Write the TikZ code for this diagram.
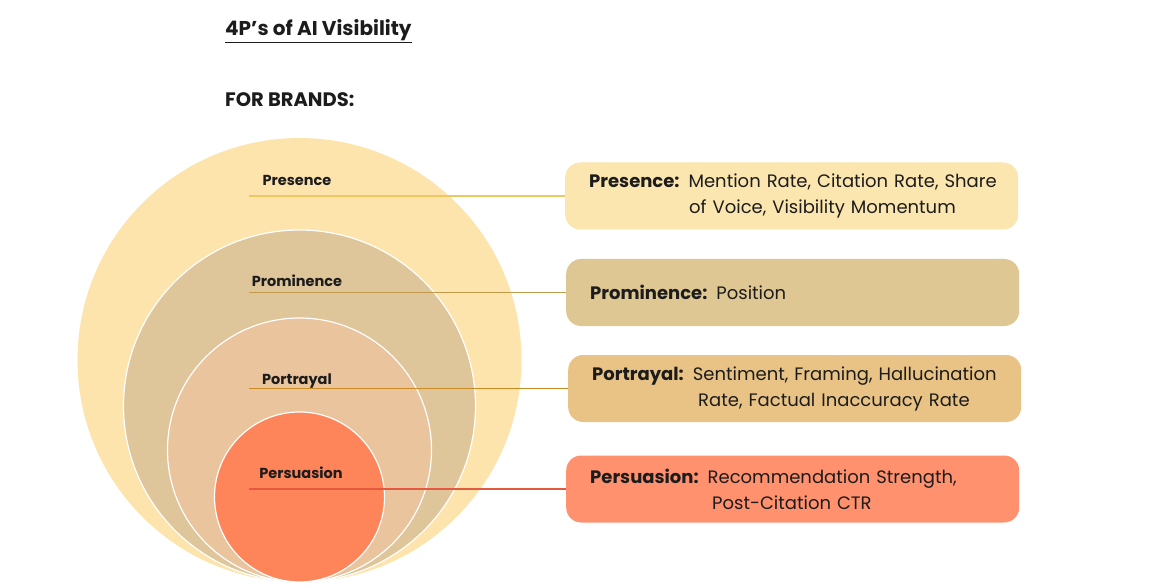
\documentclass[tikz,border=0pt]{standalone}
\usepackage{fontspec}
\setmainfont{Poppins}
\definecolor{cOut}{HTML}{FDE4AC}
\definecolor{cTwo}{HTML}{DEC59A}
\definecolor{cThree}{HTML}{E9C49C}
\definecolor{cFour}{HTML}{FE845A}
\definecolor{bOne}{HTML}{FCE6AF}
\definecolor{bTwo}{HTML}{DFC793}
\definecolor{bThree}{HTML}{E8C385}
\definecolor{bFour}{HTML}{FF916F}
\definecolor{lOne}{HTML}{F0C65E}
\definecolor{lTwo}{HTML}{C29A4C}
\definecolor{lThree}{HTML}{C98B22}
\definecolor{lFour}{HTML}{E55A3E}
\definecolor{ink}{HTML}{1C1C1C}
\tikzset{
  ring/.style={draw=white, line width=1.2pt},
  clabel/.style={font=\bfseries\fontsize{14.5}{16}\selectfont, text=ink, inner sep=0pt},
  conn/.style={line width=1.4pt},
  mbox/.style={rounded corners=15pt, minimum height=67pt, text width=405pt, inner xsep=24pt, align=left,
     font=\fontsize{18}{26}\selectfont, text=ink, anchor=west},
}
\begin{document}
\begin{tikzpicture}[x=1pt,y=-1pt]
\useasboundingbox[fill=white] (0,0) rectangle (1176,588);
% title
\node[anchor=west, inner sep=0pt, font=\bfseries\fontsize{20}{22}\selectfont, text=ink] (title) at (225,31) {\underline{4P's of AI Visibility}};
\node[anchor=west, inner sep=0pt, font=\bfseries\fontsize{19.5}{22}\selectfont, text=ink] (sub) at (225,100) {FOR BRANDS:};
% circles
\fill[cOut] (299.5,360) circle[radius=222];
\filldraw[ring, fill=cTwo] (299.5,406) circle[radius=176];
\filldraw[ring, fill=cThree] (299.5,450) circle[radius=132];
\filldraw[ring, fill=cFour] (299.5,497) circle[radius=85];
% boxes
\node[mbox, fill=bOne] (b1) at (565,196) {\mbox{\textbf{Presence:} Mention Rate, Citation Rate, Share}\\\hspace*{100pt}of Voice, Visibility Momentum};
\node[mbox, fill=bTwo] (b2) at (566,292.5) {\textbf{Prominence:} Position};
\node[mbox, fill=bThree] (b3) at (568,388.5) {\mbox{\textbf{Portrayal:} Sentiment, Framing, Hallucination}\\\hspace*{106pt}Rate, Factual Inaccuracy Rate};
\node[mbox, fill=bFour] (b4) at (566,489) {\mbox{\textbf{Persuasion:} Recommendation Strength,}\\\hspace*{122pt}Post-Citation CTR};
% connectors
\coordinate (s1) at (249,196);
\coordinate (s2) at (249,292.5);
\coordinate (s3) at (249,388.5);
\coordinate (s4) at (249,489);
\draw[conn, lOne] (s1) -- (b1.west);
\draw[conn, lTwo] (s2) -- (b2.west);
\draw[conn, lThree] (s3) -- (b3.west);
\draw[conn, lFour] (s4) -- (b4.west);
% circle labels
\node[clabel] (p1) at (297,180) {Presence};
\node[clabel] (p2) at (297,281) {Prominence};
\node[clabel] (p3) at (297,381) {Portrayal};
\node[clabel] (p4) at (301,473) {Persuasion};
\end{tikzpicture}
\end{document}
